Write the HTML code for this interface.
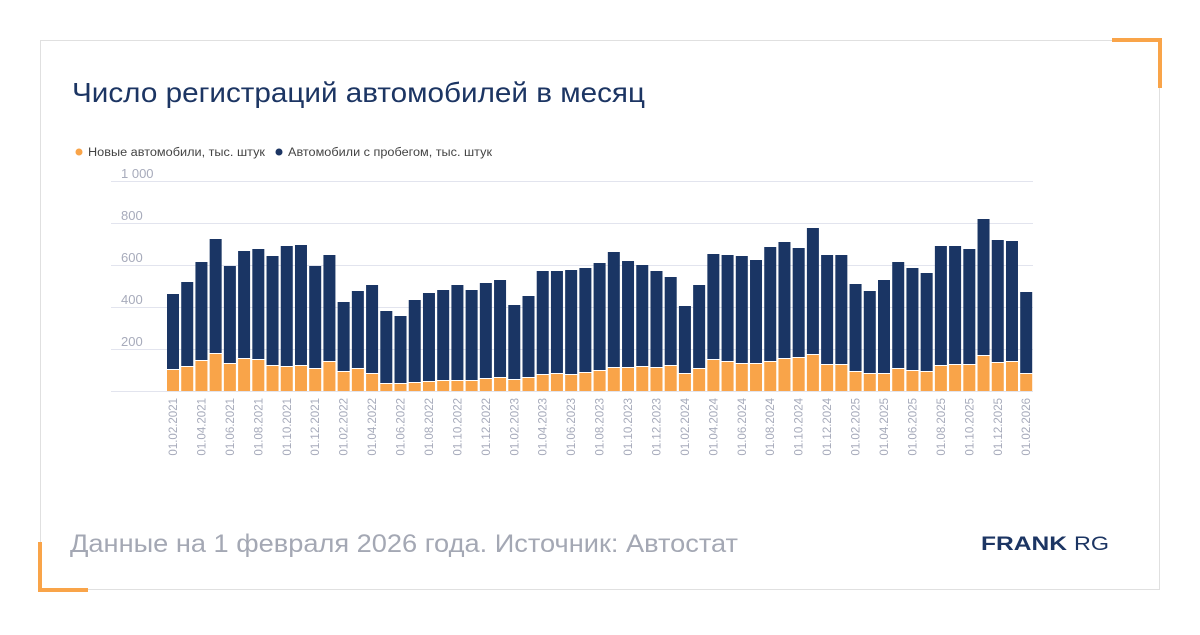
<!DOCTYPE html>
<html><head><meta charset="utf-8"><style>
body{margin:0;width:1200px;height:630px;background:#fff;overflow:hidden;font-family:"Liberation Sans",sans-serif;}
</style></head><body>
<svg width="1200" height="630" xmlns="http://www.w3.org/2000/svg" font-family="Liberation Sans, sans-serif">
<rect x="40.5" y="40.5" width="1119" height="549" fill="#fff" stroke="#e0e0e0"/>
<path d="M1112 40 H1160 V88" fill="none" stroke="#f9a449" stroke-width="4"/>
<path d="M40 542 V590 H88" fill="none" stroke="#f9a449" stroke-width="4"/>
<text x="72" y="102" font-size="28" fill="#1c3563" textLength="573" lengthAdjust="spacingAndGlyphs">Число регистраций автомобилей в месяц</text>
<circle cx="79" cy="152" r="3.5" fill="#f9a449"/>
<text x="88" y="156" font-size="11.5" fill="#444" textLength="177" lengthAdjust="spacingAndGlyphs">Новые автомобили, тыс. штук</text>
<circle cx="279" cy="152" r="3.5" fill="#1c3563"/>
<text x="288" y="156" font-size="11.5" fill="#444" textLength="204" lengthAdjust="spacingAndGlyphs">Автомобили с пробегом, тыс. штук</text>
<g stroke="#e2e4ee" stroke-width="1">
<line x1="111" x2="1033" y1="181.5" y2="181.5"/><line x1="111" x2="1033" y1="223.5" y2="223.5"/>
<line x1="111" x2="1033" y1="265.5" y2="265.5"/><line x1="111" x2="1033" y1="307.5" y2="307.5"/>
<line x1="111" x2="1033" y1="349.5" y2="349.5"/><line x1="111" x2="1033" y1="391.5" y2="391.5"/>
</g>
<g font-size="13" fill="#a7abbb">
<text x="121" y="178">1 000</text><text x="121" y="220">800</text><text x="121" y="262">600</text>
<text x="121" y="304">400</text><text x="121" y="346">200</text>
</g>
<g id="bars"></g>
<g id="labels" font-size="11.5" fill="#a7abbb"></g>
<text x="70" y="552" font-size="25" fill="#a4a8b4" textLength="668" lengthAdjust="spacingAndGlyphs">Данные на 1 февраля 2026 года. Источник: Автостат</text>
<text x="981" y="550" font-size="19" font-weight="bold" fill="#1c3563" textLength="86" lengthAdjust="spacingAndGlyphs">FRANK</text>
<text x="1074" y="550" font-size="19" fill="#1c3563" textLength="35" lengthAdjust="spacingAndGlyphs">RG</text>
</svg>
<script>
var tops=[294,282,262,239,266,251,249,256,246,245,266,255,302,291,285,311,316,300,293,290,285,290,283,280,305,296,271,271,270,268,263,252,261,265,271,277,306,285,254,255,256,260,247,242,248,228,255,255,284,291,280,262,268,273,246,246,249,219,240,241,292];
var or=[370,367,361,354,364,359,360,366,367,366,369,362,372,369,374,384,384,383,382,381,381,381,379,378,380,378,375,374,375,373,371,368,368,367,368,366,374,369,360,362,364,364,362,359,358,355,365,365,372,374,374,369,371,372,366,365,365,356,363,362,374];
var ns="http://www.w3.org/2000/svg",b=document.getElementById('bars'),l=document.getElementById('labels');
function r(x,y,w,h,c){var e=document.createElementNS(ns,'rect');e.setAttribute('x',x);e.setAttribute('y',y);e.setAttribute('width',w);e.setAttribute('height',h);e.setAttribute('fill',c);b.appendChild(e);}
for(var i=0;i<61;i++){var x=167+i*14.22;
r(x,tops[i],12,or[i]-tops[i]-1,'#1a3564');r(x,or[i],12,391-or[i],'#f9a449');
if(i%2==0){var m=(i+1)%12+1,yr=2021+Math.floor((i+1)/12);var s='01.'+(m<10?'0':'')+m+'.'+yr;
var t=document.createElementNS(ns,'text');t.setAttribute('transform','translate('+(x+10)+',398) rotate(-90)');t.setAttribute('text-anchor','end');t.textContent=s;l.appendChild(t);}}
</script>
</body></html>
